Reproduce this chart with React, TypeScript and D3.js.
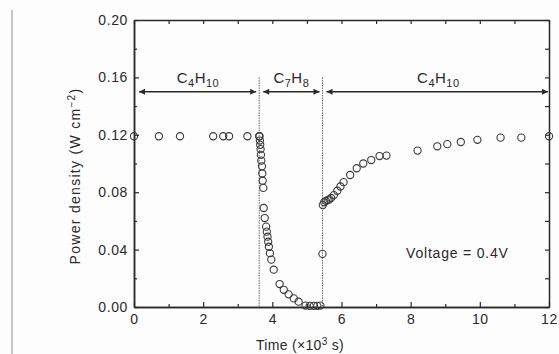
import React, { useEffect, useRef } from 'react'
import * as d3 from 'd3'

// regime 1: butane (C4H10)
const butane1Time = [0, 0.72, 1.33, 2.29, 2.58, 2.75, 3.28, 3.62]
const butane1Power = [0.119, 0.119, 0.119, 0.119, 0.119, 0.119, 0.119, 0.119]

// regime 2: toluene (C7H8)
const tolueneTime = [3.63, 3.64, 3.65, 3.66, 3.67, 3.68, 3.7, 3.71, 3.72, 3.74, 3.75, 3.78, 3.82, 3.84, 3.86, 3.88, 3.9, 3.93, 3.97, 4.04, 4.21, 4.33, 4.47, 4.62, 4.76, 4.96, 5.08, 5.2, 5.3, 5.39]
const toluenePower = [0.119, 0.116, 0.113, 0.11, 0.106, 0.102, 0.098, 0.093, 0.088, 0.083, 0.069, 0.062, 0.056, 0.0525, 0.049, 0.0455, 0.042, 0.0375, 0.033, 0.026, 0.016, 0.012, 0.0088, 0.006, 0.0037, 0.001, 0.0008, 0.0008, 0.0008, 0.001]

// regime 3: back to butane
const butane2Time = [5.45, 5.46, 5.5, 5.55, 5.6, 5.65, 5.7, 5.78, 5.88, 5.97, 6.06, 6.25, 6.44, 6.63, 6.86, 7.1, 7.3, 8.2, 8.77, 9.06, 9.45, 9.93, 10.6, 11.2, 12]
const butane2Power = [0.037, 0.071, 0.073, 0.074, 0.0745, 0.075, 0.076, 0.078, 0.081, 0.084, 0.087, 0.092, 0.0967, 0.1, 0.1024, 0.1052, 0.1055, 0.109, 0.112, 0.1135, 0.115, 0.1165, 0.118, 0.118, 0.119]

const switchTimes = [3.62, 5.45]
const regimeBounds = [0, 3.62, 5.45, 12]
const regimeLabels = [['C', '4', 'H', '10'], ['C', '7', 'H', '8'], ['C', '4', 'H', '10']]
const regimeLabelX = [1.85, 4.55, 8.8]
const arrowLevel = 0.15

const xMajor = [0, 2, 4, 6, 8, 10, 12]
const xMinor = [1, 3, 5, 7, 9, 11]
const yMajor = [0, 0.04, 0.08, 0.12, 0.16, 0.2]
const yMinor = [0.02, 0.06, 0.1, 0.14, 0.18]

export default function App() {
    const svgRef = useRef<SVGSVGElement>(null)
    const width = 559
    const height = 354

    useEffect(() => {
        if (!svgRef.current) return
        const svg = d3.select(svgRef.current)
        svg.selectAll('*').remove()

        const left = 134, right = 549, top = 20, bottom = 307
        const x = d3.scaleLinear().domain([0, 12]).range([left, right])
        const y = d3.scaleLinear().domain([0, 0.2]).range([bottom, top])
        const font = '"Liberation Sans", Arial, Helvetica, sans-serif'
        const ink = '#2a2a2a'

        svg.append('rect').attr('width', width).attr('height', height).attr('fill', '#fdfdfd')

        // scan artefact at the left edge
        svg.append('line')
            .attr('x1', 12).attr('x2', 12).attr('y1', 10).attr('y2', height)
            .attr('stroke', '#c4c4c4').attr('stroke-width', 2)

        const defs = svg.append('defs')
        defs.append('marker')
            .attr('id', 'arrow')
            .attr('viewBox', '0 0 10 10')
            .attr('refX', 10).attr('refY', 5)
            .attr('markerWidth', 8).attr('markerHeight', 6)
            .attr('markerUnits', 'userSpaceOnUse')
            .attr('orient', 'auto-start-reverse')
            .append('path').attr('d', 'M0,0L10,5L0,10z').attr('fill', ink)

        const styleAxis = (g: d3.Selection<SVGGElement, unknown, null, undefined>) => {
            g.selectAll('path').attr('stroke', ink).attr('stroke-width', 1.5)
            g.selectAll('line').attr('stroke', ink).attr('stroke-width', 1.2)
            g.selectAll('text').attr('fill', ink).style('font-family', font).style('font-size', '14px')
                .style('letter-spacing', '0.6px')
        }

        // bottom
        svg.append('g').attr('transform', `translate(0,${bottom})`)
            .call(d3.axisBottom(x).tickValues(xMinor).tickSizeInner(-3).tickSizeOuter(0).tickFormat(() => ''))
            .call(styleAxis)
        svg.append('g').attr('transform', `translate(0,${bottom})`)
            .call(d3.axisBottom(x).tickValues(xMajor).tickSizeInner(-5).tickSizeOuter(0).tickPadding(7).tickFormat(d3.format('d')))
            .call(styleAxis)
        // top
        svg.append('g').attr('transform', `translate(0,${top})`)
            .call(d3.axisTop(x).tickValues(xMinor.concat(xMajor)).tickSizeInner(-4).tickSizeOuter(0).tickFormat(() => ''))
            .call(styleAxis)
        // left
        svg.append('g').attr('transform', `translate(${left},0)`)
            .call(d3.axisLeft(y).tickValues(yMinor).tickSizeInner(-3).tickSizeOuter(0).tickFormat(() => ''))
            .call(styleAxis)
        svg.append('g').attr('transform', `translate(${left},0)`)
            .call(d3.axisLeft(y).tickValues(yMajor).tickSizeInner(-5).tickSizeOuter(0).tickPadding(6).tickFormat(d3.format('.2f')))
            .call(styleAxis)
        // right
        svg.append('g').attr('transform', `translate(${right},0)`)
            .call(d3.axisRight(y).tickValues(yMinor.concat(yMajor)).tickSizeInner(-4).tickSizeOuter(0).tickFormat(() => ''))
            .call(styleAxis)

        // switching lines
        svg.selectAll('.switch')
            .data(switchTimes)
            .enter().append('line')
            .attr('class', 'switch')
            .attr('x1', d => x(d)).attr('x2', d => x(d))
            .attr('y1', y(0.16)).attr('y2', y(0))
            .attr('stroke', '#666').attr('stroke-width', 1)
            .attr('stroke-dasharray', '1.5,1')

        // regime arrows
        const spans = d3.pairs(regimeBounds)
        svg.selectAll('.span')
            .data(spans)
            .enter().append('line')
            .attr('class', 'span')
            .attr('x1', (d, i) => x(d[0]) + (i === 0 ? 5 : 4))
            .attr('x2', (d, i) => x(d[1]) - (i === spans.length - 1 ? 1 : 3))
            .attr('y1', y(arrowLevel)).attr('y2', y(arrowLevel))
            .attr('stroke', ink).attr('stroke-width', 1.3)
            .attr('marker-start', 'url(#arrow)')
            .attr('marker-end', 'url(#arrow)')

        // regime labels
        regimeLabels.forEach((parts, i) => {
            const t = svg.append('text')
                .attr('x', x(regimeLabelX[i])).attr('y', y(0.157) + 1)
                .attr('text-anchor', 'middle')
                .attr('fill', ink)
                .style('font-family', font).style('font-size', '15px')
                .style('letter-spacing', '0.5px')
            t.append('tspan').text(parts[0])
            t.append('tspan').attr('dy', 4).style('font-size', '11px').text(parts[1])
            t.append('tspan').attr('dy', -4).text(parts[2])
            t.append('tspan').attr('dy', 4).style('font-size', '11px').text(parts[3])
        })

        // data
        const points = [
            ...butane1Time.map((t, i) => ({ t, p: butane1Power[i] })),
            ...tolueneTime.map((t, i) => ({ t, p: toluenePower[i] })),
            ...butane2Time.map((t, i) => ({ t, p: butane2Power[i] })),
        ]
        svg.selectAll('.pt')
            .data(points)
            .enter().append('circle')
            .attr('class', 'pt')
            .attr('cx', d => x(d.t))
            .attr('cy', d => y(d.p))
            .attr('r', 3.6)
            .attr('fill', 'none')
            .attr('stroke', '#3a3a3a')
            .attr('stroke-width', 1.1)

        // annotation
        svg.append('text')
            .attr('x', x(9.35)).attr('y', 258)
            .attr('text-anchor', 'middle')
            .attr('fill', ink)
            .style('font-family', font).style('font-size', '14px')
            .style('letter-spacing', '0.8px')
            .text('Voltage = 0.4V')

        // axis titles
        const xt = svg.append('text')
            .attr('x', 300).attr('y', 350)
            .attr('text-anchor', 'middle')
            .attr('fill', ink)
            .style('font-family', font).style('font-size', '14px')
            .style('letter-spacing', '0.3px')
        xt.append('tspan').text('Time (\u00d710')
        xt.append('tspan').attr('dy', -5).style('font-size', '10px').text('3')
        xt.append('tspan').attr('dy', 5).text(' s)')

        const yt = svg.append('text')
            .attr('transform', `translate(80,176) rotate(-90)`)
            .attr('text-anchor', 'middle')
            .attr('fill', ink)
            .style('font-family', font).style('font-size', '14px')
            .style('letter-spacing', '1.3px')
        yt.append('tspan').text('Power density (W cm')
        yt.append('tspan').attr('dy', -5).style('font-size', '10px').text('\u22122')
        yt.append('tspan').attr('dy', 5).text(')')
    }, [])

    return (
        <svg ref={svgRef} width={width} height={height} viewBox={`0 0 ${width} ${height}`}
            style={{ position: 'absolute', left: 0, top: 0 }} />
    )
}
